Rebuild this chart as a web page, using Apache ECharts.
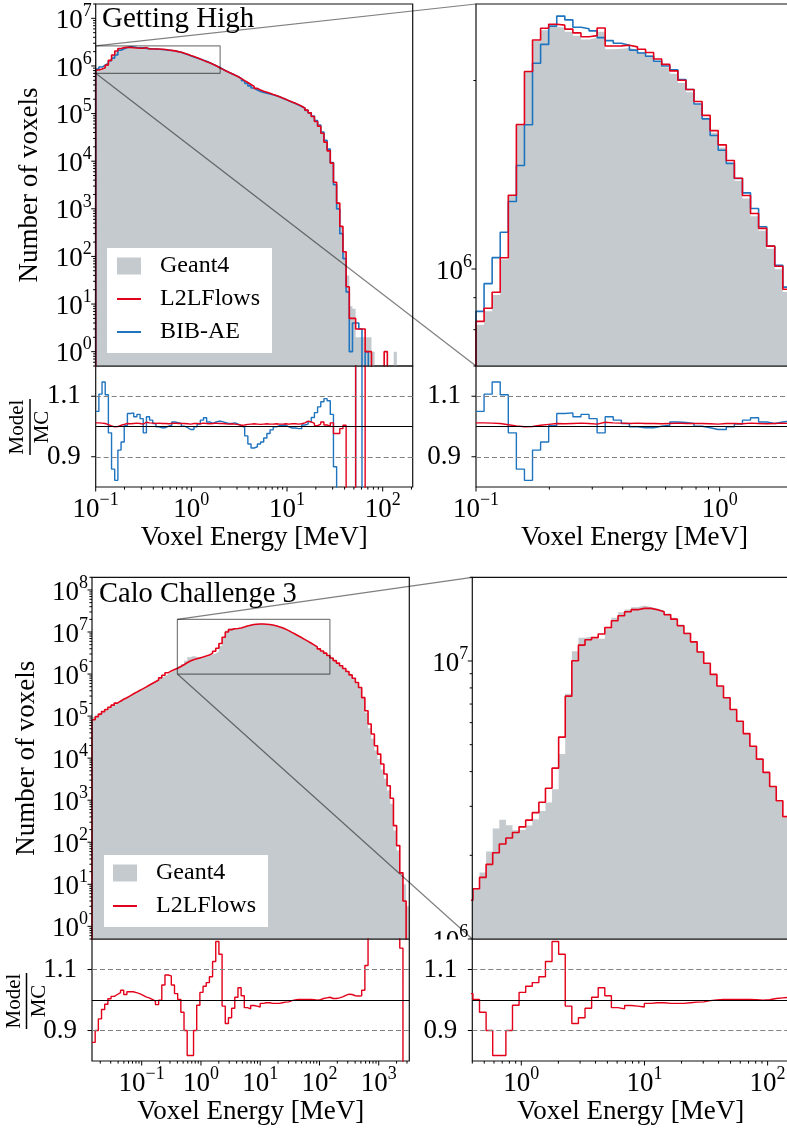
<!DOCTYPE html>
<html><head><meta charset="utf-8">
<script src="https://cdn.jsdelivr.net/npm/echarts@6/dist/echarts.min.js"></script>
<style>html,body{margin:0;padding:0;background:#fff}#c{width:787px;height:1135px}</style>
</head><body><div id="c"></div>
<script>
// ================= DATA =================
// ---- "Getting High" (top row): 100 log-uniform bins ----
const topBinRange = [0.1, 206];
const topBinCount = 100;
const g4Top = [
  8.15e5, 8.56e5, 9.09e5, 1.036e6, 1.309e6, 1.703e6, 2.068e6, 2.312e6, 2.407e6, 2.436e6,
  2.430e6, 2.392e6, 2.357e6, 2.326e6, 2.340e6, 2.392e6, 2.244e6, 2.247e6, 2.255e6, 2.239e6,
  2.222e6, 2.195e6, 2.145e6, 2.101e6, 2.050e6, 1.982e6, 1.916e6, 1.833e6, 1.744e6, 1.650e6,
  1.563e6, 1.476e6, 1.384e6, 1.296e6, 1.214e6, 1.151e6, 1.077e6, 9.99e5, 9.19e5, 8.50e5,
  7.85e5, 7.30e5, 6.80e5, 6.35e5, 5.90e5, 5.40e5, 4.90e5, 4.45e5, 4.05e5, 3.70e5,
  3.35e5, 3.10e5, 2.93e5, 2.78e5, 2.64e5, 2.50e5, 2.37e5, 2.24e5, 2.10e5, 1.97e5,
  1.85e5, 1.74e5, 1.64e5, 1.53e5, 1.41e5, 1.29e5, 1.16e5, 1.02e5, 8.6e4, 6.8e4,
  5.4e4, 3.8e4, 2.5e4, 1.65e4, 9.0e3, 3.7e3, 1.35e3, 430, 125, 40,
  9, 8, 2, 2, 2, 2, 2, 1, 0, 0,
  0, 0, 0, 0, 1, 0, 0, 0, 0, 0
];
// Model / MC ratio (bins 0..78)
const l2lTopRatio = [
  1.012, 1.011, 1.010, 1.006, 1.002, 0.999, 1.000, 1.004, 1.007, 1.010,
  1.009, 1.010, 1.011, 1.010, 1.008, 1.014, 1.012, 1.011, 1.010, 1.011,
  1.010, 1.010, 1.009, 1.010, 1.011, 1.010, 1.010, 1.010, 1.009, 1.008,
  1.010, 1.010, 1.009, 1.011, 1.010, 1.009, 1.010, 1.011, 1.010, 1.010,
  1.009, 1.008, 1.009, 1.008, 1.006, 1.004, 1.005, 1.007, 1.008, 1.009,
  1.008, 1.007, 1.008, 1.009, 1.008, 1.008, 1.009, 1.008, 1.008, 1.009,
  1.008, 1.009, 1.009, 1.008, 1.009, 1.012, 1.018, 1.015, 1.010, 1.003,
  1.008, 1.015, 1.005, 1.000, 1.012, 0.977, 0.977, 0.993, 1.004
];
const bibTopRatio = [
  1.050, 1.107, 1.147, 1.105, 0.979, 0.859, 0.822, 0.922, 0.949, 1.003,
  1.043, 1.045, 1.032, 1.040, 1.026, 0.979, 1.032, 1.021, 1.010, 0.999,
  0.996, 0.996, 1.001, 1.004, 1.015, 1.013, 1.010, 1.001, 0.996, 0.990,
  0.990, 0.999, 1.008, 1.021, 1.029, 1.015, 1.010, 1.015, 1.018, 1.016,
  1.013, 1.010, 1.010, 1.012, 1.008, 1.002, 0.997, 0.969, 0.942, 0.929,
  0.933, 0.942, 0.949, 0.962, 0.977, 0.989, 0.999, 1.003, 1.004, 1.004,
  0.999, 0.995, 0.995, 0.993, 0.993, 1.005, 1.008, 1.016, 1.030, 1.046,
  1.065, 1.082, 1.092, 1.085, 1.040, 0.867, 0.740, 0.700, 0.720
];
// sparse high-energy tail counts (bins 79..99)
const l2lTopTail = [23, 5, 5, 3, 3, 3, 1, 1, 0, 0, 0, 0, 1, 0, 0, 0, 0, 0, 0, 0, 0];
const bibTopTail = [18, 1, 4, 4, 3, 0, 1, 0, 0, 0, 0, 0, 0, 0, 0, 0, 0, 0, 0, 0, 0];
const topMainY = [0.5, 2e7];
const topZoomX = [0.1, 2];
const topZoomY = [7.0e5, 2.65e6];

// ---- "Calo Challenge 3" (bottom row): 100 log-uniform bins ----
const botBinRange = [0.0145, 3280];
const botBinCount = 100;
const g4Bot = [
  9.55e4, 1.07e5, 1.19e5, 1.32e5, 1.46e5, 1.62e5, 1.80e5, 2.00e5, 2.21e5, 2.43e5,
  2.69e5, 2.95e5, 3.27e5, 3.59e5, 3.98e5, 4.37e5, 4.84e5, 5.37e5, 5.96e5, 6.61e5,
  7.33e5, 8.13e5, 8.91e5, 9.89e5, 1.10e6, 1.22e6, 1.35e6, 1.514e6, 1.735e6, 2.062e6,
  2.498e6, 2.685e6, 2.566e6, 2.459e6, 2.470e6, 2.561e6, 2.694e6, 2.884e6, 3.096e6, 3.454e6,
  4.630e6, 7.627e6, 1.085e7, 1.211e7, 1.226e7, 1.203e7, 1.202e7, 1.300e7, 1.431e7, 1.498e7,
  1.531e7, 1.561e7, 1.583e7, 1.563e7, 1.543e7, 1.518e7, 1.483e7, 1.430e7, 1.353e7, 1.267e7,
  1.180e7, 1.084e7, 9.83e6, 8.95e6, 8.11e6, 7.36e6, 6.68e6, 6.06e6, 5.47e6, 4.93e6,
  4.44e6, 3.97e6, 3.52e6, 3.12e6, 2.73e6, 2.39e6, 2.08e6, 1.81e6, 1.56e6, 1.33e6,
  1.13e6, 9.38e5, 7.83e5, 6.23e5, 4.72e5, 2.66e5, 1.20e5, 5.17e4, 2.88e4, 1.52e4,
  9.6e3, 5.36e3, 3.22e3, 1.70e3, 822, 191, 64, 16, 10, 3
];
const l2lBotRatio = [
  0.861, 0.900, 0.938, 0.969, 0.986, 1.004, 1.012, 1.018, 1.024, 1.032,
  1.018, 1.027, 1.027, 1.024, 1.021, 1.016, 1.010, 1.007, 1.002, 0.996,
  0.985, 0.999, 1.049, 1.082, 1.079, 1.049, 1.021, 1.002, 0.960, 0.900,
  0.818, 0.818, 0.900, 0.983, 1.025, 1.045, 1.057, 1.076, 1.126, 1.192,
  1.150, 0.980, 0.923, 0.942, 0.973, 1.009, 1.040, 1.014, 0.975, 0.971,
  0.982, 0.980, 0.977, 0.989, 0.991, 0.991, 0.989, 0.989, 0.989, 0.991,
  0.993, 0.994, 0.998, 1.000, 1.002, 1.002, 1.002, 1.002, 1.002, 1.001,
  0.999, 1.001, 1.005, 1.007, 1.009, 1.005, 1.005, 1.007, 1.010, 1.015,
  1.019, 1.018, 1.014, 1.013, 1.014, 1.032, 1.113, 1.250, 1.300, 1.300,
  1.300, 1.350, 1.300, 1.300, 1.350, 1.300, 1.300, 1.170, 0.400, 0.000
];
const botMainY = [0.5, 2e8];
const botZoomX = [0.4, 150];
const botZoomY = [1e6, 2e7];

const ratioRange = [0.8, 1.2];
const ratioTickVals = [0.9, 1.1];

// ================= STYLE =================
const FONT = '"Liberation Serif", "Times New Roman", serif';
const RED = '#e2001a', BLUE = '#1f74c0', GRAY = '#c4cacd';

// ================= DERIVED =================
const mkEdges = (r, n) => { const a = Math.log10(r[0]), b = Math.log10(r[1]); return Array.from({length: n + 1}, (_, i) => Math.pow(10, a + (b - a) * i / n)); };
const topEdges = mkEdges(topBinRange, topBinCount);
const botEdges = mkEdges(botBinRange, botBinCount);
const l2lTop = g4Top.map((g, i) => i < l2lTopRatio.length ? g * l2lTopRatio[i] : l2lTopTail[i - l2lTopRatio.length]);
const bibTop = g4Top.map((g, i) => i < bibTopRatio.length ? g * bibTopRatio[i] : bibTopTail[i - bibTopRatio.length]);
const l2lBot = g4Bot.map((g, i) => g * l2lBotRatio[i]);
const ratioOf = (m, g) => m.map((v, i) => g[i] > 0 ? v / g[i] : null);

const FLOOR = 1e-3;
function histPath(e, c, closed) {
  const d = [];
  if (closed) d.push([e[0], FLOOR]);
  c.forEach((v, i) => { const y = v > 0 ? v : FLOOR; d.push([e[i], y], [e[i + 1], y]); });
  if (closed) d.push([e[c.length], FLOOR]);
  return d;
}
function ratioPath(e, r) {
  const d = [];
  r.forEach((v, i) => { if (v == null) d.push([e[i], null]); else d.push([e[i], v], [e[i + 1], v]); });
  return d;
}

// ================= LAYOUT =================
const grids = [
  {left: 95.7, top: 4, width: 317, height: 362},        // 0 top-left main
  {left: 95.7, top: 366, width: 317, height: 121},      // 1 top-left ratio
  {left: 476, top: 4, width: 317, height: 362},         // 2 top-right main
  {left: 476, top: 366, width: 317, height: 121},       // 3 top-right ratio
  {left: 92, top: 577.3, width: 317.3, height: 361.7},  // 4 bottom-left main
  {left: 92, top: 939, width: 317.3, height: 122},      // 5 bottom-left ratio
  {left: 472.3, top: 577.3, width: 317, height: 361.7}, // 6 bottom-right main
  {left: 472.3, top: 939, width: 317, height: 122}      // 7 bottom-right ratio
];
const isRatio = i => i % 2 === 1;
const xRanges = [topBinRange, topBinRange, topZoomX, topZoomX, botBinRange, botBinRange, botZoomX, botZoomX];
const yRanges = [topMainY, ratioRange, topZoomY, ratioRange, botMainY, ratioRange, botZoomY, ratioRange];

const powStr = e => '{b|10}{s|' + (e < 0 ? '\u2212' + (-e) : e) + '}';
const powFmt = v => { const l = Math.log10(v), e = Math.round(l); if (Math.abs(l - e) > 1e-6) return ''; return powStr(e); };
// the bottom-right panel's lowest label sits on the ratio panel's edge; it is drawn separately so it can be half-covered
const powFmtBR = v => (Math.abs(v - botZoomY[0]) / botZoomY[0] < 1e-6) ? '' : powFmt(v);
const powRich = {
  b: {fontFamily: FONT, fontSize: 27, lineHeight: 32, verticalAlign: 'bottom', color: '#000'},
  s: {fontFamily: FONT, fontSize: 18, lineHeight: 19, verticalAlign: 'top', color: '#000'}
};
const nameStyle = {fontFamily: FONT, fontSize: 27, color: '#000'};

const xAxes = grids.map((g, i) => ({
  type: 'log', logBase: 10, gridIndex: i, min: xRanges[i][0], max: xRanges[i][1],
  axisLine: {show: false}, axisTick: {show: false}, splitLine: {show: false},
  axisLabel: isRatio(i) ? {show: true, formatter: powFmt, rich: powRich, margin: 4, showMinLabel: true, showMaxLabel: true} : {show: false},
  name: isRatio(i) ? 'Voxel Energy [MeV]' : '', nameLocation: 'middle', nameGap: 37, nameTextStyle: nameStyle
}));
const yAxes = grids.map((g, i) => isRatio(i) ? ({
  type: 'value', gridIndex: i, min: ratioRange[0], max: ratioRange[1], interval: 0.1,
  axisLine: {show: false}, axisTick: {show: false}, splitLine: {show: false},
  axisLabel: {margin: 15, fontFamily: FONT, fontSize: 27, color: '#000',
    formatter: v => ratioTickVals.some(t => Math.abs(v - t) < 1e-6) ? v.toFixed(1) : ''}
}) : ({
  type: 'log', logBase: 10, gridIndex: i, min: yRanges[i][0], max: yRanges[i][1],
  axisLine: {show: false}, axisTick: {show: false}, splitLine: {show: false},
  axisLabel: {formatter: i === 6 ? powFmtBR : powFmt, rich: powRich, margin: 4, showMinLabel: true, showMaxLabel: true},
  name: (i === 0 || i === 4) ? 'Number of voxels' : '', nameLocation: 'middle', nameRotate: 90, nameGap: 52, nameTextStyle: nameStyle
}));

function logTickList(r) {
  const out = [];
  for (let e = Math.floor(Math.log10(r[0])) - 1; e <= Math.ceil(Math.log10(r[1])); e++)
    for (let m = 1; m <= 9; m++) { const v = m * Math.pow(10, e); if (v >= r[0] * (1 - 1e-9) && v <= r[1] * (1 + 1e-9)) out.push([v, m === 1 ? 1 : 0]); }
  return out;
}
function tickSeries(i) {
  const xr = xRanges[i], yr = yRanges[i], data = [];
  if (isRatio(i)) {
    logTickList(xr).forEach(([v, M]) => data.push([v, yr[0], 0, M]));
    ratioTickVals.forEach(v => data.push([xr[0], v, 1, 1]));
  } else {
    logTickList(yr).forEach(([v, M]) => data.push([xr[0], v, 1, M]));
  }
  return {
    type: 'custom', xAxisIndex: i, yAxisIndex: i, data, z: 6, silent: true, clip: false,
    renderItem: (p, api) => {
      const c = api.coord([api.value(0), api.value(1)]);
      const L = api.value(3) ? 4.5 : 2.6;
      const s = {stroke: '#000', lineWidth: 1};
      return api.value(2) === 0
        ? {type: 'line', shape: {x1: c[0], y1: c[1], x2: c[0], y2: c[1] + L}, style: s}
        : {type: 'line', shape: {x1: c[0] - L, y1: c[1], x2: c[0], y2: c[1]}, style: s};
    }
  };
}

const series = [];
function mainSeries(gi, edges, g4, models) {
  series.push({type: 'line', name: 'Geant4', xAxisIndex: gi, yAxisIndex: gi, data: histPath(edges, g4, false),
    symbol: 'none', color: GRAY, lineStyle: {width: 0}, areaStyle: {color: GRAY, opacity: 1, origin: 'start'}, z: 2, silent: true});
  models.forEach(m => series.push({type: 'line', name: m.name, xAxisIndex: gi, yAxisIndex: gi, data: histPath(edges, m.counts, true),
    symbol: 'none', color: m.color, lineStyle: {width: 1.6, color: m.color}, z: m.z, silent: true}));
}
function ratioSeries(gi, models) {
  series.push({type: 'line', name: 'ref', xAxisIndex: gi, yAxisIndex: gi, data: [], silent: true, z: 1.5,
    markLine: {silent: true, symbol: ['none', 'none'], label: {show: false}, animation: false,
      data: [
        {yAxis: ratioTickVals[1], lineStyle: {color: '#808080', type: [5, 3], width: 1.2}},
        {yAxis: ratioTickVals[0], lineStyle: {color: '#808080', type: [5, 3], width: 1.2}},
        {yAxis: 1.0, lineStyle: {color: '#000', type: 'solid', width: 1.2}}
      ]}});
  models.forEach(m => series.push({type: 'line', name: m.name, xAxisIndex: gi, yAxisIndex: gi, data: ratioPath(m.edges, m.ratio),
    symbol: 'none', color: m.color, lineStyle: {width: 1.4, color: m.color}, z: m.z, silent: true, connectNulls: false}));
}
function zoomRect(gi, zx, zy) {
  series.push({type: 'line', name: 'inset', xAxisIndex: gi, yAxisIndex: gi, silent: true, z: 4, symbol: 'none',
    data: [[zx[0], zy[0]], [zx[1], zy[0]], [zx[1], zy[1]], [zx[0], zy[1]], [zx[0], zy[0]]],
    lineStyle: {color: 'rgba(0,0,0,0.5)', width: 1.2}});
}

const topModels = [{name: 'BIB-AE', counts: bibTop, color: BLUE, z: 3}, {name: 'L2LFlows', counts: l2lTop, color: RED, z: 3.1}];
const topRatios = [{name: 'BIB-AE', edges: topEdges, ratio: ratioOf(bibTop, g4Top), color: BLUE, z: 3}, {name: 'L2LFlows', edges: topEdges, ratio: ratioOf(l2lTop, g4Top), color: RED, z: 3.1}];
const botModels = [{name: 'L2LFlows', counts: l2lBot, color: RED, z: 3.1}];
const botRatios = [{name: 'L2LFlows', edges: botEdges, ratio: ratioOf(l2lBot, g4Bot), color: RED, z: 3.1}];

mainSeries(0, topEdges, g4Top, topModels); ratioSeries(1, topRatios);
mainSeries(2, topEdges, g4Top, topModels); ratioSeries(3, topRatios);
mainSeries(4, botEdges, g4Bot, botModels); ratioSeries(5, botRatios);
mainSeries(6, botEdges, g4Bot, botModels); ratioSeries(7, botRatios);
zoomRect(0, topZoomX, topZoomY);
zoomRect(4, botZoomX, botZoomY);
grids.forEach((g, i) => series.push(tickSeries(i)));

const LINE_ICON = 'path://M0,0H24V2H0Z';
const legendBase = {orient: 'vertical', backgroundColor: '#fff', itemGap: 9, itemWidth: 24, itemHeight: 17,
  selectedMode: false, z: 8, itemStyle: {borderWidth: 0},
  textStyle: {fontFamily: FONT, fontSize: 24, color: '#000', lineHeight: 24, padding: [0, 0, 0, 14]}};

const chart = echarts.init(document.getElementById('c'), null, {renderer: 'canvas'});
chart.setOption({
  animation: false,
  textStyle: {fontFamily: FONT},
  grid: grids.map((g, i) => Object.assign({}, g, {show: true, borderColor: '#111', borderWidth: 1.2, containLabel: false, outerBoundsMode: 'none',
    backgroundColor: isRatio(i) ? '#fff' : 'transparent', z: isRatio(i) ? 1 : 5})),
  xAxis: xAxes,
  yAxis: yAxes,
  legend: [
    Object.assign({}, legendBase, {left: 107, top: 248, padding: [6, 12, 9, 10],
      data: [{name: 'Geant4', icon: 'rect'}, {name: 'L2LFlows', icon: LINE_ICON}, {name: 'BIB-AE', icon: LINE_ICON}]}),
    Object.assign({}, legendBase, {left: 104, top: 855, padding: [6, 12, 9, 9],
      data: [{name: 'Geant4', icon: 'rect'}, {name: 'L2LFlows', icon: LINE_ICON}]})
  ],
  series,
  graphic: [
    {id: 't1', type: 'text', left: 102, top: 5, z: 8, style: {text: 'Getting High', fontFamily: FONT, fontSize: 29, fill: '#000'}},
    {id: 't2', type: 'text', left: 99, top: 580, z: 8, style: {text: 'Calo Challenge 3', fontFamily: FONT, fontSize: 28.5, fill: '#000'}},
    ...[[30, 427, 'f1'], [26.5, 1001, 'f2']].map(([x, y, id]) => ({
      id, type: 'group', x, y, rotation: Math.PI / 2, z: 8,
      children: [
        {type: 'text', x: 0, y: -2, style: {text: 'Model', fontFamily: FONT, fontSize: 21, fill: '#000', align: 'center', verticalAlign: 'bottom'}},
        {type: 'line', shape: {x1: -28, y1: 0, x2: 28, y2: 0}, style: {stroke: '#000', lineWidth: 1.5}},
        {type: 'text', x: 0, y: 2, style: {text: 'MC', fontFamily: FONT, fontSize: 21, fill: '#000', align: 'center', verticalAlign: 'top'}}
      ]
    }))
  ]
});

// connector lines of the inset zooms: same data corner in both panels
function connectors(src, dst, zx, zy, tag) {
  return [[zx[0], zy[1]], [zx[0], zy[0]]].map((pt, k) => {
    const a = chart.convertToPixel({gridIndex: src}, pt), b = chart.convertToPixel({gridIndex: dst}, pt);
    return {id: tag + k, type: 'line', z: 7, silent: true, shape: {x1: a[0], y1: a[1], x2: b[0], y2: b[1]},
      style: {stroke: 'rgba(0,0,0,0.5)', lineWidth: 1.2}};
  });
}
// lowest tick label of the bottom-right panel, partly hidden behind the ratio panel's white background
const brLabelPos = chart.convertToPixel({gridIndex: 6}, [botZoomX[0], botZoomY[0]]);
const brRatioTL = chart.convertToPixel({gridIndex: 7}, [botZoomX[0], ratioRange[1]]);
const brRatioBR = chart.convertToPixel({gridIndex: 7}, [botZoomX[1], ratioRange[0]]);
chart.setOption({graphic: [
  ...connectors(0, 2, topZoomX, topZoomY, 'ct'), ...connectors(4, 6, botZoomX, botZoomY, 'cb'),
  {id: 'brlab', type: 'text', z: 0.3, silent: true, x: brLabelPos[0] - 4, y: brLabelPos[1],
    style: {text: powStr(Math.round(Math.log10(botZoomY[0]))), rich: powRich, align: 'right', verticalAlign: 'middle'}},
  {id: 'brcover', type: 'rect', z: 0.6, silent: true,
    shape: {x: brRatioTL[0] - 60, y: brRatioTL[1] + 0.6, width: 60, height: 20}, style: {fill: '#fff'}}
]});
</script></body></html>
